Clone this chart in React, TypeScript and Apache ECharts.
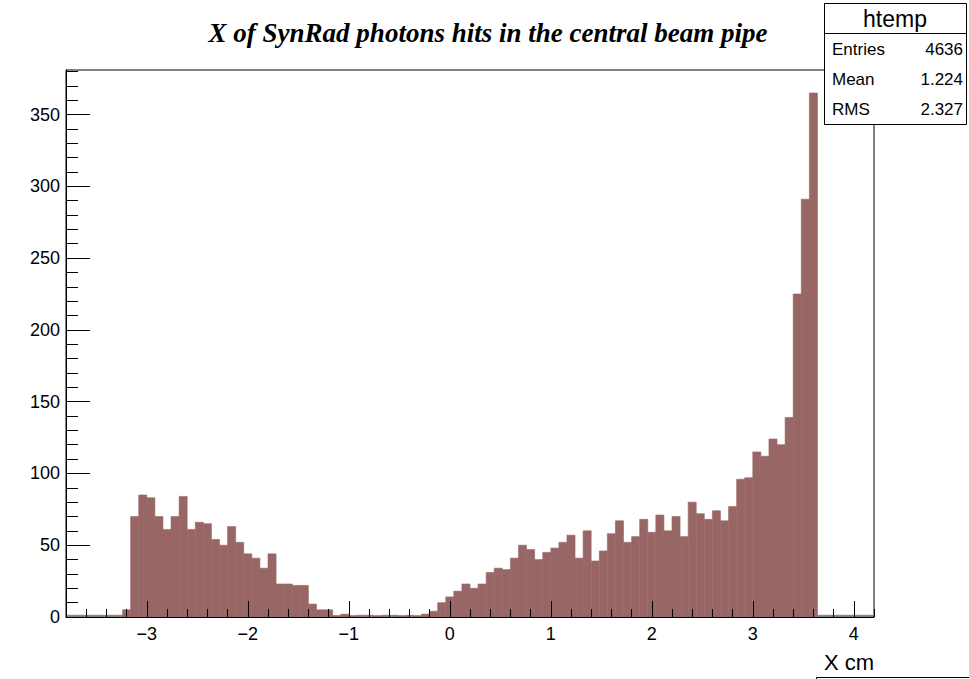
import React, { useEffect, useRef } from "react";
import * as echarts from "echarts";

// Histogram binning (ROOT htemp: 100 bins)
const xLow = -3.8;
const xHigh = 4.2;
const binWidth = 0.08;
const yMax = 381;

// Bin contents, left to right
const counts = [
  0, 0, 0, 0, 0, 0, 0,
  5, 70, 85, 83, 70, 61, 70, 84, 61, 66,
  65, 54, 50, 63, 52, 44, 41, 34, 44, 23,
  23, 22, 22, 9, 5, 5, 1, 2, 1, 0,
  0, 1, 0, 0, 1, 0, 1, 2, 4, 10,
  14, 18, 23, 20, 23, 31, 34, 33, 41, 50,
  47, 40, 45, 48, 52, 57, 41, 60, 39, 46,
  58, 67, 52, 56, 68, 59, 71, 60, 70, 56,
  80, 72, 68, 74, 67, 77, 96, 97, 115, 112,
  124, 120, 139, 225, 291, 365,
  0, 0, 0, 0, 0, 0, 0,
];

const xMajorTicks = [-3, -2, -1, 0, 1, 2, 3, 4];
const yMajorTicks = [0, 50, 100, 150, 200, 250, 300, 350];
const xMinorStep = 0.2;
const yMinorStep = 10;

const titleText = "X of SynRad photons hits in the central beam pipe";
const xTitle = "X cm";
const statsName = "htemp";
const statsRows: [string, string][] = [
  ["Entries", "4636"],
  ["Mean", "1.224"],
  ["RMS", "2.327"],
];

const fillColor = "#996666";
const sans = "'Liberation Sans', Arial, Helvetica, sans-serif";
const serif = "'Liberation Serif', 'Times New Roman', serif";

function minorTicks(lo: number, hi: number, step: number): number[] {
  const out: number[] = [];
  const start = Math.ceil(lo / step - 1e-9);
  const end = Math.floor(hi / step + 1e-9);
  for (let i = start; i <= end; i++) out.push(Math.round(i * step * 1000) / 1000);
  return out;
}

const fmtX = (v: number) => (v < 0 ? "\u2212" + Math.abs(v) : String(v));

export default function App() {
  const ref = useRef<HTMLDivElement>(null);
  useEffect(() => {
    if (!ref.current) return;
    const chart = echarts.init(ref.current, null, { renderer: "svg" });
    const data = counts.map((c, i) => [xLow + i * binWidth, xLow + (i + 1) * binWidth, c]);

    const renderItem = (params: any, api: any) => {
      const x0 = api.value(0);
      const x1 = api.value(1);
      const v = api.value(2);
      const p0 = api.coord([x0, 0]);
      const p1 = api.coord([x1, v]);
      if (v === 0) {
        return {
          type: "rect",
          shape: { x: p0[0], y: p0[1] - 2.2, width: p1[0] - p0[0] + 0.3, height: 1.2 },
          style: { fill: fillColor, opacity: 0.85 },
        };
      }
      return {
        type: "rect",
        shape: { x: p0[0], y: p1[1], width: p1[0] - p0[0], height: p0[1] - p1[1] },
        style: { fill: fillColor, stroke: fillColor, lineWidth: 0.6 },
      };
    };

    const axisLineStyle = { color: "#000", width: 1 };

    const option: any = {
      animation: false,
      backgroundColor: "#ffffff",
      grid: {
        left: 66,
        top: 70,
        width: 808,
        height: 547,
        show: true,
        borderColor: "#000",
        borderWidth: 1,
        backgroundColor: "transparent",
      },
      xAxis: [
        {
          type: "value",
          min: xLow,
          max: xHigh,
          position: "bottom",
          z: 5,
          axisLine: { show: true, onZero: false, lineStyle: axisLineStyle },
          axisTick: {
            show: true,
            inside: true,
            length: 16,
            customValues: xMajorTicks,
            lineStyle: axisLineStyle,
          },
          axisLabel: {
            show: true,
            customValues: xMajorTicks,
            formatter: fmtX,
            color: "#000",
            fontFamily: sans,
            fontSize: 18,
            margin: 8,
          },
          splitLine: { show: false },
        },
        {
          type: "value",
          min: xLow,
          max: xHigh,
          position: "bottom",
          z: 5,
          axisLine: { show: false, onZero: false },
          axisTick: {
            show: true,
            inside: true,
            length: 8,
            customValues: minorTicks(xLow, xHigh, xMinorStep),
            lineStyle: axisLineStyle,
          },
          axisLabel: { show: false },
          splitLine: { show: false },
        },
      ],
      yAxis: [
        {
          type: "value",
          min: 0,
          max: yMax,
          position: "left",
          z: 5,
          axisLine: { show: true, onZero: false, lineStyle: axisLineStyle },
          axisTick: {
            show: true,
            inside: true,
            length: 24,
            customValues: yMajorTicks,
            lineStyle: axisLineStyle,
          },
          axisLabel: {
            show: true,
            customValues: yMajorTicks,
            color: "#000",
            fontFamily: sans,
            fontSize: 18,
            margin: 6,
          },
          splitLine: { show: false },
        },
        {
          type: "value",
          min: 0,
          max: yMax,
          position: "left",
          z: 5,
          axisLine: { show: false, onZero: false },
          axisTick: {
            show: true,
            inside: true,
            length: 12,
            customValues: minorTicks(0, yMax, yMinorStep),
            lineStyle: axisLineStyle,
          },
          axisLabel: { show: false },
          splitLine: { show: false },
        },
      ],
      series: [
        {
          type: "custom",
          xAxisIndex: 0,
          yAxisIndex: 0,
          z: 2,
          data,
          encode: { x: [0, 1], y: 2 },
          renderItem,
        },
      ],
      graphic: [
        {
          type: "text",
          x: 488,
          y: 33,
          z: 10,
          style: {
            text: titleText,
            fill: "#000",
            font: `italic bold 27px ${serif}`,
            textAlign: "center",
            textVerticalAlign: "middle",
          },
        },
        {
          type: "rect",
          z: 20,
          shape: { x: 824.5, y: 3.5, width: 142, height: 121 },
          style: { fill: "#fff", stroke: "#000", lineWidth: 1 },
        },
        {
          type: "line",
          z: 21,
          shape: { x1: 824.5, y1: 33.5, x2: 966.5, y2: 33.5 },
          style: { stroke: "#000", lineWidth: 1 },
        },
        {
          type: "text",
          x: 895,
          y: 19,
          z: 22,
          style: {
            text: statsName,
            fill: "#000",
            font: `23px ${sans}`,
            textAlign: "center",
            textVerticalAlign: "middle",
          },
        },
        ...statsRows.flatMap((row, i) => [
          {
            type: "text",
            x: 832,
            y: 49.5 + i * 30,
            z: 22,
            style: {
              text: row[0],
              fill: "#000",
              font: `17px ${sans}`,
              textAlign: "left",
              textVerticalAlign: "middle",
            },
          },
          {
            type: "text",
            x: 963,
            y: 49.5 + i * 30,
            z: 22,
            style: {
              text: row[1],
              fill: "#000",
              font: `17px ${sans}`,
              textAlign: "right",
              textVerticalAlign: "middle",
            },
          },
        ]),
        {
          type: "text",
          x: 874,
          y: 662,
          z: 10,
          style: {
            text: xTitle,
            fill: "#000",
            font: `22px ${sans}`,
            textAlign: "right",
            textVerticalAlign: "middle",
          },
        },
        {
          type: "polyline",
          z: 10,
          shape: { points: [[816.5, 680], [816.5, 677.5], [969, 677.5]] },
          style: { stroke: "#000", lineWidth: 1, fill: "none" },
        },
      ],
    };
    chart.setOption(option);
    return () => chart.dispose();
  }, []);

  return (
    <div
      ref={ref}
      style={{ position: "fixed", left: 0, top: 0, width: 969, height: 679, background: "#fff" }}
    />
  );
}
